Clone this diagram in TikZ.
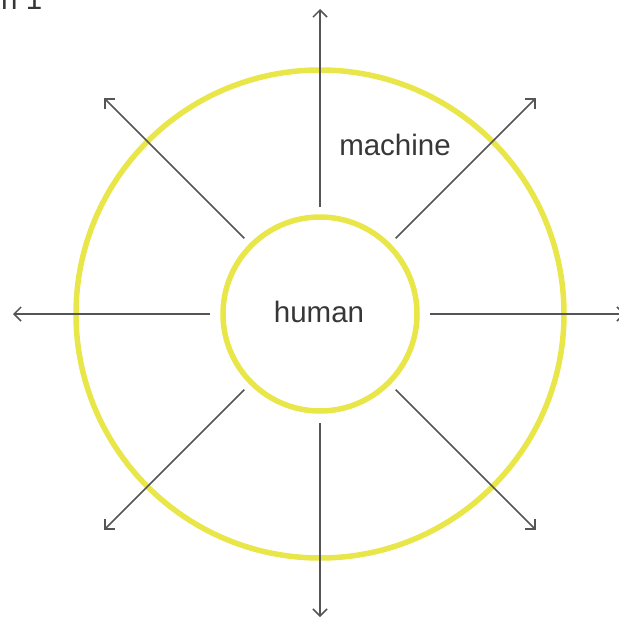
\documentclass[tikz,border=0pt]{standalone}
\usepackage{fontspec}
\setmainfont{Liberation Sans}
\usetikzlibrary{arrows.meta,calc}
\definecolor{ringyellow}{RGB}{232,230,72}
\definecolor{arrowgray}{RGB}{85,85,85}
\definecolor{txtgray}{RGB}{55,55,55}
\tikzset{
  ring/.style={circle, draw=ringyellow, line width=5.5pt, inner sep=0pt},
  ray/.style={draw=arrowgray, line width=1.5pt, -{Straight Barb[length=7pt,width=14pt,line width=1.5pt]}},
  lbl/.style={font=\fontsize{29.5}{34}\selectfont, text=txtgray, inner sep=0pt}
}
\begin{document}
\begin{tikzpicture}[x=1pt,y=-1pt]
\useasboundingbox (0,0) rectangle (619,618);
\coordinate (c) at (320,314);
\node[ring, minimum size=488pt] (outer) at (c) {};
\node[ring, minimum size=194pt] (inner) at (c) {};
\node[lbl] (human) at (319,312) {human};
\node[lbl] (machine) at (395,145) {machine};
\node[lbl, anchor=base west] (corner) at (1,10) {n 1};
\foreach \a/\s/\e in {90/107/305, 270/109/303, 180/110/307, 0/110/305, 45/107/305, 135/107/305, 225/107/305, 315/107/305}{
  \coordinate (s\a) at ($(c)+(\a:\s pt)$);
  \coordinate (e\a) at ($(c)+(\a:\e pt)$);
  \draw[ray] (s\a) -- (e\a);
}
\end{tikzpicture}
\end{document}
